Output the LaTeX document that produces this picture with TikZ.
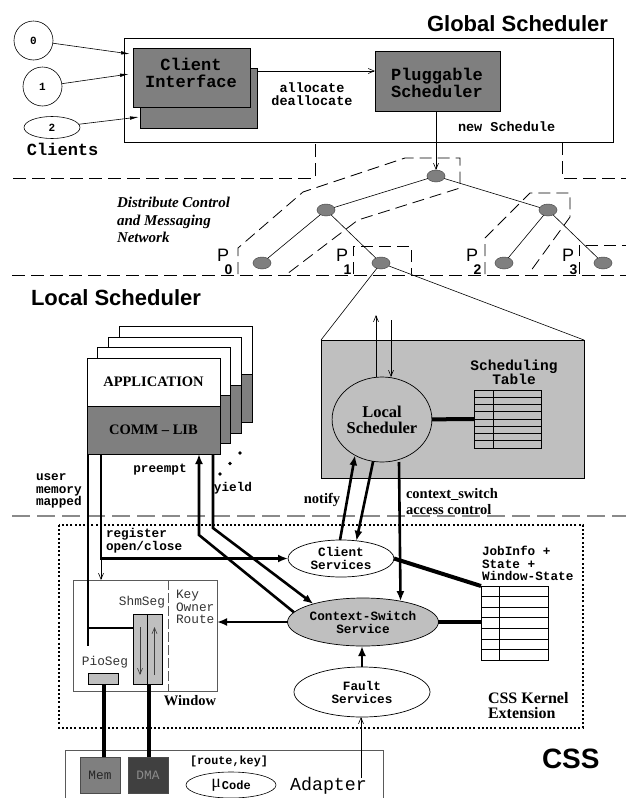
\documentclass[tikz,border=0pt]{standalone}
\usepackage{fontspec}
\setmainfont{Liberation Serif}
\setsansfont{Liberation Sans}
\setmonofont{Liberation Mono}
\usetikzlibrary{arrows.meta,calc,shapes.geometric}

\definecolor{darkfill}{HTML}{7F7F7F}
\definecolor{lightfill}{HTML}{BFBFBF}
\definecolor{dmafill}{HTML}{404040}
\definecolor{framegray}{HTML}{5A5A5A}
\definecolor{sepgray}{HTML}{8A8A8A}

\newcommand{\fsz}[2]{\fontsize{#1}{#2}\selectfont}
\newcommand{\procsub}[1]{P\kern-4.5pt\raisebox{-13pt}{\fsz{14}{14}\sffamily\bfseries #1}}

\tikzset{
  every node/.style={inner sep=0pt, outer sep=0pt},
  cbig/.style={font=\fsz{17}{17.5}\ttfamily\bfseries, align=center},
  cmid/.style={font=\fsz{13.5}{13}\ttfamily\bfseries, align=center},
  cbold/.style={font=\fsz{12.7}{13}\ttfamily\bfseries, align=center},
  cleft/.style={font=\fsz{12.7}{12.8}\ttfamily\bfseries, align=left},
  creg/.style={font=\fsz{12.8}{12.6}\ttfamily, text=black!80},
  tbold/.style={font=\fsz{14.5}{16}\bfseries, align=center},
  hbig/.style={font=\fsz{22}{22}\sffamily\bfseries},
  plab/.style={font=\fsz{18}{18}\sffamily, anchor=base west},
  darkbox/.style={draw=black, line width=0.6pt, fill=darkfill, anchor=north west},
  lightbox/.style={draw=black, line width=0.6pt, fill=lightfill, anchor=north west},
  frame/.style={draw=framegray, line width=0.6pt, anchor=north west},
  pnode/.style={ellipse, draw=black!70, line width=0.5pt, fill=darkfill, minimum width=18pt, minimum height=12pt},
  oval/.style={ellipse, draw=black, line width=0.7pt},
  sep/.style={line width=0.8pt, dash pattern=on 13pt off 6pt},
  grp/.style={line width=0.8pt, dash pattern=on 12pt off 6pt},
  midsep/.style={draw=sepgray, line width=1.4pt, dash pattern=on 18pt off 7pt},
  thinln/.style={line width=0.6pt},
  thinarr/.style={line width=0.6pt, -{Straight Barb[length=6pt,width=5pt]}},
  fillarr/.style={line width=0.6pt, -{Latex[length=9pt,width=3.5pt]}},
  heavy/.style={line width=2.6pt},
  bigarr/.style={line width=2.6pt, -{Latex[length=10pt,width=8pt]}},
  bar/.style={line width=4pt},
}

\begin{document}
\begin{tikzpicture}[x=1pt,y=-1pt]
\useasboundingbox (0,0) rectangle (626,798);

% ---------------- Global scheduler ----------------
\node[hbig, anchor=base east] (gtitle) at (608,31) {Global Scheduler};
\node[frame, draw=black, minimum width=489pt, minimum height=104pt] (gbox) at (124,38) {};
\node[darkbox, minimum width=117pt, minimum height=60pt] (ciback) at (140,68) {};
\node[darkbox, minimum width=117pt, minimum height=59pt] (ci) at (133,48) {};
\node[cbig] (citext) at (191,73) {Client\\Interface};
\node[darkbox, minimum width=125pt, minimum height=60pt] (ps) at (375,51) {};
\node[cbig] (pstext) at (437,83) {Pluggable\\Scheduler};
\node[cmid] (alloc) at (312,94) {allocate\\deallocate};
\node[cmid, anchor=west] (newsch) at (458,127) {new Schedule};

% clients
\node[circle, draw=black, line width=0.6pt, minimum size=39pt, font=\fsz{11}{11}\ttfamily\bfseries] (c0) at (33.5,40.5) {0};
\node[circle, draw=black, line width=0.6pt, minimum size=39pt, font=\fsz{11}{11}\ttfamily\bfseries] (c1) at (42.5,86.5) {1};
\node[ellipse, draw=black, line width=0.6pt, minimum width=56pt, minimum height=22pt, font=\fsz{11}{11}\ttfamily\bfseries] (c2) at (52,127.5) {2};
\node[cbig, anchor=base west] (clients) at (27,155) {Clients};
\coordinate (t0) at (130,54);
\coordinate (t1) at (129,74);
\coordinate (t2) at (139,117);
\draw[fillarr] (c0) -- (t0);
\draw[fillarr] (c1) -- (t1);
\draw[fillarr] (c2) -- (t2);
\draw[thinarr] ([yshift=-3pt]ciback.north east) -- ([yshift=-3pt]ciback.north east -| ps.west);

% separators
\draw[sep] (13,178) -- (315,178) -- (315,142);
\draw[sep] (562,142) -- (562,178) -- (626,178);
\draw[sep] (12,275) -- (626,275);
\draw[midsep] (12,516) -- (626,516);

% ---------------- Network ----------------
\node[font=\fsz{15}{17.5}\bfseries\itshape, align=left, anchor=west] (net) at (117,220) {Distribute Control\\and Messaging\\Network};

\draw[grp] (238,274) -- (238,248) -- (303,192) -- (405,158) -- (460,158) -- (460,188) -- (358,220) -- (287,274);
\draw[grp] (353,274) -- (353,246) -- (411,246) -- (411,274);
\draw[grp] (485,274) -- (485,238) -- (530,193) -- (570,193) -- (570,217) -- (530,272);
\draw[grp] (579,274) -- (579,245) -- (626,245);

\node[pnode] (root) at (436,176) {};
\node[pnode] (ml) at (326,210) {};
\node[pnode] (mr) at (548,210) {};
\node[pnode] (p0) at (262,263) {};
\node[pnode] (p1) at (381,263) {};
\node[pnode] (p2) at (504,263) {};
\node[pnode] (p3) at (603,263) {};
\draw[thinln] (root) -- (ml);
\draw[thinln] (root) -- (mr);
\draw[thinln] (ml) -- (p0);
\draw[thinln] (ml) -- (p1);
\draw[thinln] (mr) -- (p2);
\draw[thinln] (mr) -- (p3);
\draw[thinarr] (ps.south -| root) -- (root.north);

\node[plab] (lp0) at (217,261.5) {\procsub{0}};
\node[plab] (lp1) at (336,261) {\procsub{1}};
\node[plab] (lp2) at (466,261) {\procsub{2}};
\node[plab] (lp3) at (562,261) {\procsub{3}};

% ---------------- Local scheduler ----------------
\node[hbig, anchor=base west] (ltitle) at (31,305) {Local Scheduler};
\node[lightbox, minimum width=263pt, minimum height=138pt] (lsbox) at (321,340) {};
\draw[thinln] (p1) -- (lsbox.north west);
\draw[thinln] (p1) -- (lsbox.north east);
\node[oval, minimum width=93pt, minimum height=85pt, tbold, font=\fsz{16.5}{16}\bfseries] (lsc) at (382,419.5) {Local\\Scheduler};
\coordinate (lsup) at (376,315);
\coordinate (lsdown) at (391,320);
\draw[thinarr] ([xshift=-6pt]lsc.north) -- (lsup);
\draw[thinarr] (lsdown) -- ([xshift=9pt]lsc.north);
\node[cbold, font=\fsz{14.5}{14}\ttfamily\bfseries] (sttext) at (514,372) {Scheduling\\Table};
\node[draw=black, line width=0.6pt, anchor=north west, minimum width=67pt, minimum height=58pt] (stab) at (474,390) {};
\foreach \i in {1,...,7}{
  \draw[thinln] ($(stab.north west)+(0,7.25*\i)$) -- ($(stab.north east)+(0,7.25*\i)$);
}
\draw[thinln] ($(stab.north west)+(19,0)$) -- ($(stab.south west)+(19,0)$);
\draw[bar] (lsc) -- (stab);

% application stack
\foreach \k in {3,2,1}{
  \begin{scope}[shift={(10.7*\k,-10.5*\k)}]
    \draw[line width=0.6pt, fill=white] (87,358) rectangle (220,406);
    \draw[line width=0.6pt, fill=darkfill] (87,406) rectangle (220,454);
  \end{scope}
}
\node[draw=black, line width=0.6pt, fill=white, anchor=north west, minimum width=133pt, minimum height=48pt, font=\fsz{14.5}{14.5}\bfseries] (app) at (87,358) {APPLICATION};
\node[darkbox, minimum width=133pt, minimum height=48pt, font=\fsz{14.5}{14.5}\bfseries] (comm) at (87,406) {COMM -- LIB};
\fill (240,453) circle (1.9pt);
\fill (230,463.5) circle (1.9pt);
\fill (220,474) circle (1.9pt);

\node[cbold] (preempt) at (160,470) {preempt};
\node[cbold] (yield) at (233,488) {yield};
\node[cleft, anchor=west] (umm) at (36,491) {user\\memory\\mapped};
\node[tbold] (notify) at (322,500) {notify};
\node[tbold, align=left, anchor=west] (ctx) at (406,502) {context\_switch\\access control};

% ---------------- CSS kernel extension ----------------
\draw[line width=2pt, dash pattern=on 2pt off 2.2pt] (59,525) rectangle (583,728);
\node[cleft, anchor=west] (reg) at (106,540.5) {register\\open/close};
\node[oval, fill=white, minimum width=106pt, minimum height=37pt, cbold] (cls) at (341,558.5) {Client\\Services};
\node[oval, fill=lightfill, minimum width=132pt, minimum height=48pt, cbold] (csw) at (363,622) {Context-Switch\\Service};
\node[oval, fill=white, minimum width=136pt, minimum height=50pt, cbold] (fault) at (362,692) {Fault\\Services};

\node[cleft, anchor=west] (jtext) at (482,563.5) {JobInfo +\\State +\\Window-State};
\node[draw=black, line width=0.6pt, anchor=north west, minimum width=67pt, minimum height=74pt] (jtab) at (481,586) {};
\foreach \i in {1,...,6}{
  \draw[thinln] ($(jtab.north west)+(0,10.57*\i)$) -- ($(jtab.north east)+(0,10.57*\i)$);
}
\draw[thinln] ($(jtab.north west)+(18,0)$) -- ($(jtab.south west)+(18,0)$);

% window
\node[frame, minimum width=144pt, minimum height=111pt] (win) at (73,580) {};
\draw[draw=framegray, line width=0.6pt, dash pattern=on 10pt off 3pt] (168,580) -- (168,691);
\node[creg] (shmtext) at (142,602) {ShmSeg};
\node[creg, align=left, anchor=west] (kor) at (176,607) {Key\\Owner\\Route};
\node[lightbox, minimum width=14pt, minimum height=70pt] (shml) at (133,614) {};
\node[lightbox, minimum width=15pt, minimum height=70pt] (shmr) at (147,614) {};
\draw[thinarr, draw=black!75] ($(shml.north)+(0,13)$) -- ($(shml.south)+(0,-9)$);
\draw[thinarr, draw=black!75] ($(shmr.south)+(0,-9)$) -- ($(shmr.north)+(0,13)$);
\node[creg] (piotext) at (105,662) {PioSeg};
\node[lightbox, minimum width=30pt, minimum height=11pt] (pio) at (88,673) {};
\node[tbold, anchor=center] (wintext) at (190,701) {Window};
\node[tbold, font=\fsz{16}{15.5}\bfseries, align=left, anchor=west] (kext) at (488,705.5) {CSS Kernel\\Extension};

% user memory line and register line
\coordinate (ujoin) at (88,628);
\draw[heavy] ([xshift=1pt]comm.south west) -- (88,646);
\draw[heavy] (ujoin) -- (ujoin -| shml.west);
\coordinate (rbend) at (101,558.5);
\draw[bigarr] (comm.south west -| rbend) -- (rbend) -- (cls.west);
\draw[thinarr] (rbend) -- (rbend |- win.north);

% preempt / yield
\coordinate (pbend) at (199,535);
\coordinate (ybend) at (213,528);
\draw[bigarr] (csw.172) -- (pbend) -- (pbend |- comm.south);
\draw[bigarr] (comm.south -| ybend) -- (ybend) -- (csw.160);

% notify / context switch
\draw[bigarr] (cls.93) -- (lsc.-127);
\draw[bigarr] (lsc.-102) -- (cls.49);
\coordinate (cxs) at (399,462);
\draw[bigarr] (cxs) -- (csw.29);

\draw[bar] (cls.east) -- (jtab.north west);
\draw[bar] (csw.east) -- (csw.east -| jtab.west);
\draw[bigarr] (csw.west) -- (csw.west -| win.east);
\draw[bigarr] (fault.north) -- (fault.north |- csw.south);

% ---------------- Adapter ----------------
\node[hbig, font=\fsz{28}{28}\sffamily\bfseries, anchor=base west] (css) at (542,768) {CSS};
\draw[draw=framegray, line width=0.6pt] (65,805) -- (65,750) -- (383,750) -- (383,805);
\node[draw=black!70, line width=0.6pt, fill=darkfill, anchor=north west, minimum width=40pt, minimum height=36pt, font=\fsz{12.8}{12.8}\ttfamily, text=black!85] (mem) at (80,757) {Mem};
\node[draw=black!70, line width=0.6pt, fill=dmafill, anchor=north west, minimum width=40pt, minimum height=36pt, font=\fsz{12.8}{12.8}\ttfamily, text=black!45] (dma) at (128,757) {DMA};
\node[cbold, font=\fsz{11.8}{11.8}\ttfamily\bfseries] (rk) at (229,761) {[route,key]};
\node[oval, line width=0.6pt, minimum width=90pt, minimum height=26pt] (ucode) at (231,785) {{\fsz{18}{18}μ}\kern1pt\raisebox{-2pt}{\fsz{12}{12}\ttfamily\bfseries Code}};
\node[font=\fsz{18.3}{18.3}\ttfamily] (adtext) at (328.5,786) {Adapter};
\coordinate (adin) at (361,778);
\draw[thinarr] (adin) -- (adin |- fault.south);

\draw[bar] ([xshift=1pt]pio.south) -- ([xshift=1pt]pio.south |- mem.north);
\coordinate (dmatop) at (149,684);
\draw[bar] (dmatop) -- (dmatop |- dma.north);

\end{tikzpicture}
\end{document}
